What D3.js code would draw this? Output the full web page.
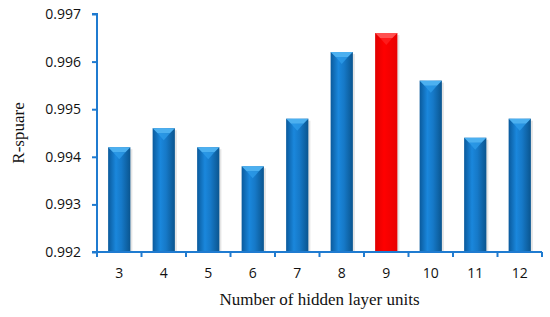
<!DOCTYPE html>
<html>
<head>
  <style>
    body { margin: 0; background: white; }
    .tick text { font-family: "Open Sans", "Liberation Sans", sans-serif; font-size: 14px; fill: #111; }
    .title { font-family: "Liberation Serif", "DejaVu Serif", serif; font-size: 17px; fill: #111; }
  </style>
</head>
<body>
  <script src="https://d3js.org/d3.v7.min.js"></script>
  <script>
    var units = ["3", "4", "5", "6", "7", "8", "9", "10", "11", "12"];
    var rsquare = [0.9942, 0.9946, 0.9942, 0.9938, 0.9948, 0.9962, 0.9966, 0.9956, 0.9944, 0.9948];
    var yTicks = [0.992, 0.993, 0.994, 0.995, 0.996, 0.997];
    var best = "9";

    var width = 550, height = 317;
    var margin = {top: 14, right: 8, bottom: 65, left: 97};

    var svg = d3.select("body").append("svg")
        .attr("width", width).attr("height", height);

    var defs = svg.append("defs");
    var gBlue = defs.append("linearGradient").attr("id", "blue");
    gBlue.append("stop").attr("offset", "0%").attr("stop-color", "#0a5a9c");
    gBlue.append("stop").attr("offset", "35%").attr("stop-color", "#1a87dc");
    gBlue.append("stop").attr("offset", "60%").attr("stop-color", "#1679c8");
    gBlue.append("stop").attr("offset", "100%").attr("stop-color", "#0a558f");
    var gRed = defs.append("linearGradient").attr("id", "red");
    gRed.append("stop").attr("offset", "0%").attr("stop-color", "#e00000");
    gRed.append("stop").attr("offset", "40%").attr("stop-color", "#ff0000");
    gRed.append("stop").attr("offset", "100%").attr("stop-color", "#e80000");

    var x = d3.scaleBand()
        .domain(units)
        .range([margin.left, width - margin.right])
        .paddingInner(0.5).paddingOuter(0.25);

    var y = d3.scaleLinear()
        .domain([0.992, 0.997])
        .range([height - margin.bottom, margin.top]);

    var bars = svg.append("g").selectAll("g")
        .data(units.map((u, i) => ({u: u, v: rsquare[i]})))
      .enter().append("g");

    // soft shadow
    bars.append("rect")
        .attr("x", d => x(d.u) + 2)
        .attr("y", d => y(d.v) + 2)
        .attr("width", x.bandwidth())
        .attr("height", d => y(0.992) - y(d.v) - 2)
        .attr("fill", "#ccc").attr("opacity", 0.5);

    bars.append("rect")
        .attr("x", d => x(d.u))
        .attr("y", d => y(d.v))
        .attr("width", x.bandwidth())
        .attr("height", d => y(0.992) - y(d.v))
        .attr("fill", d => d.u === best ? "url(#red)" : "url(#blue)");

    // bevelled top
    bars.append("path")
        .attr("d", d => {
          var x0 = x(d.u), x1 = x0 + x.bandwidth(), y0 = y(d.v), b = 5;
          return "M" + x0 + "," + y0 + "L" + x1 + "," + y0 + "L" + (x1 - b) + "," + (y0 + b) +
                 "L" + (x0 + b) + "," + (y0 + b) + "Z";
        })
        .attr("fill", d => d.u === best ? "#ff5050" : "#4cb0f0");
    bars.append("path")
        .attr("d", d => {
          var x0 = x(d.u), x1 = x0 + x.bandwidth(), y0 = y(d.v), b = 5;
          return "M" + (x0 + b) + "," + (y0 + b) + "L" + (x1 - b) + "," + (y0 + b) +
                 "L" + (x0 + x.bandwidth() / 2) + "," + (y0 + 12) + "Z";
        })
        .attr("fill", d => d.u === best ? "#ff2020" : "#2d9be8").attr("opacity", 0.8);

    var axisColor = "#1f7bd0";

    var yAxis = svg.append("g")
        .attr("transform", "translate(" + margin.left + ",0)")
        .call(d3.axisLeft(y).tickValues(yTicks).tickFormat(d3.format(".3f")).tickSize(5).tickPadding(11));
    var xAxis = svg.append("g")
        .attr("transform", "translate(0," + (height - margin.bottom) + ")")
        .call(d3.axisBottom(x).tickSize(0).tickPadding(16));

    // ticks between categories
    var bounds = d3.range(units.length + 1).map(i => margin.left + i * (width - margin.right - margin.left) / units.length);
    xAxis.selectAll(".sep").data(bounds).enter().append("line")
        .attr("x1", d => d).attr("x2", d => d).attr("y1", 0).attr("y2", 5)
        .attr("stroke", axisColor).attr("stroke-width", 2);

    [xAxis, yAxis].forEach(a => {
      a.select(".domain").attr("stroke", axisColor).attr("stroke-width", 2);
      a.selectAll(".tick line").attr("stroke", axisColor).attr("stroke-width", 2);
    });
    yAxis.select(".domain").attr("d", "M-5," + y(0.997) + "H0V" + y(0.992) + "H-5");
    xAxis.select(".domain").attr("d", "M" + margin.left + ",0H" + (width - margin.right));

    svg.append("text").attr("class", "title")
        .attr("x", (margin.left + width - margin.right) / 2)
        .attr("y", 305)
        .attr("text-anchor", "middle")
        .text("Number of hidden layer units");

    svg.append("text").attr("class", "title")
        .attr("transform", "translate(24," + ((margin.top + height - margin.bottom) / 2) + ") rotate(-90)")
        .attr("text-anchor", "middle")
        .text("R-spuare");
  </script>
</body>
</html>
